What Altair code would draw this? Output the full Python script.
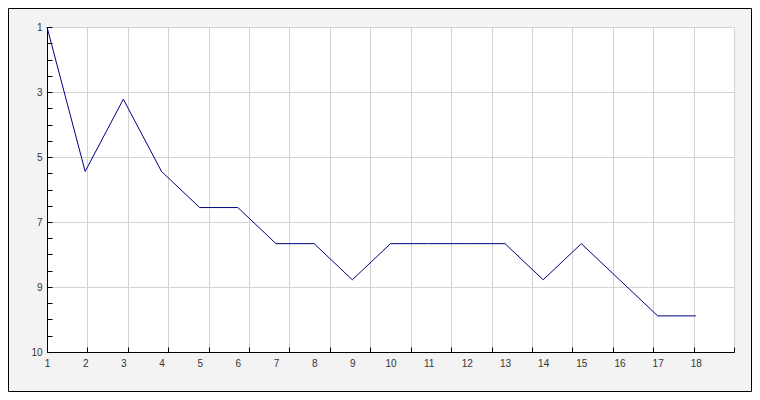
import altair as alt
import pandas as pd

# Data
races = list(range(1, 19))
positions = [1, 5, 3, 5, 6, 6, 7, 7, 8, 7, 7, 7, 7, 8, 7, 8, 9, 9]

# Axis values
x_label_values = list(range(1, 19))
x_tick_values = [1, 2.06, 3.12, 4.18, 5.24, 6.29, 7.35, 8.41, 9.47, 10.53,
                 11.59, 12.65, 13.71, 14.76, 15.82, 16.88, 17.94, 19]
y_grid_values = [1, 2.8, 4.6, 6.4, 8.2, 10]
y_labels = ["1", "3", "5", "7", "9", "10"]
y_minor_ticks = [1, 1.45, 1.9, 2.35, 2.8, 3.25, 3.7, 4.15, 4.6, 5.05, 5.5,
                 5.95, 6.4, 6.85, 7.3, 7.75, 8.2, 8.65, 9.1, 9.55, 10]

df = pd.DataFrame({"race": races, "pos": positions})

FONT = "Liberation Sans"
LABEL_COLOR = "#333333"
GRID = "#d3d3d3"

xscale = alt.Scale(domain=[1, 19], nice=False, zero=False)
yscale = alt.Scale(domain=[1, 10], reverse=True, nice=False, zero=False)

label_expr = "[" + ",".join("'%s'" % s for s in y_labels) + "][round((datum.value - 1) / 1.8)]"

base = alt.Chart(df)

# grid + inward ticks layer (invisible line)
ticks_layer = base.mark_line(strokeOpacity=0).encode(
    x=alt.X("race:Q", scale=xscale,
            axis=alt.Axis(orient="bottom", values=x_tick_values, labels=False, title=None,
                          grid=True, gridColor=GRID, gridWidth=1,
                          ticks=True, tickSize=5, tickColor="black", tickWidth=1,
                          domain=False, offset=-5)),
    y=alt.Y("pos:Q", scale=yscale,
            axis=alt.Axis(orient="left", values=y_minor_ticks, labels=False, title=None,
                          grid=False, ticks=True, tickSize=5, tickColor="black", tickWidth=1,
                          domain=False, offset=-5)),
)

line = base.mark_line(color="#00007f", strokeWidth=1).encode(
    x=alt.X("race:Q", scale=xscale,
            axis=alt.Axis(orient="bottom", values=x_label_values, title=None, grid=False,
                          ticks=False, tickSize=0, domain=True, domainColor="black", domainWidth=1,
                          labelPadding=6, labelFont=FONT, labelFontSize=10, labelColor=LABEL_COLOR,
                          labelFlush=False, labelOverlap=False)),
    y=alt.Y("pos:Q", scale=yscale,
            axis=alt.Axis(orient="left", values=y_grid_values, labelExpr=label_expr, title=None,
                          grid=True, gridColor=GRID, gridWidth=1,
                          ticks=False, tickSize=0, domain=True, domainColor="black", domainWidth=1,
                          labelPadding=5, labelFont=FONT, labelFontSize=10, labelColor=LABEL_COLOR,
                          labelFlush=False, labelOverlap=False, labelBaseline="middle")),
)

border = alt.Chart(pd.DataFrame({"a": [0]})).mark_rect(
    fillOpacity=0, stroke="black", strokeWidth=1
).encode(
    x=alt.value(-38.5), x2=alt.value(704.5), y=alt.value(-18.5), y2=alt.value(364.5)
)

chart = alt.layer(ticks_layer, line, border).resolve_axis(
    x="independent", y="independent"
).properties(
    width=687, height=325,
    autosize=alt.AutoSizeParams(type="none"),
    padding={"left": 39, "top": 19, "right": 18, "bottom": 40},
    background="#f3f3f3",
).configure_view(
    stroke=None, fill="white"
)

chart.save("out.html", embed_options={"renderer": "svg", "actions": False})
